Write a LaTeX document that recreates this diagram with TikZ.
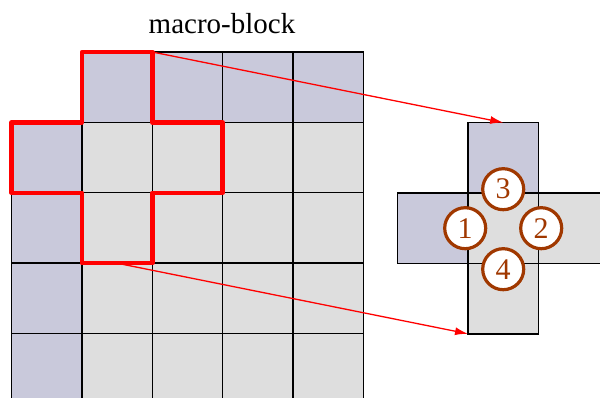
\documentclass[tikz,border=0pt]{standalone}
\usepackage{fontspec}
\setmainfont{Liberation Serif}
\usetikzlibrary{arrows.meta,calc}
\definecolor{mbpurple}{RGB}{201,201,219}
\definecolor{mbgray}{RGB}{222,222,222}
\definecolor{mbbrown}{RGB}{160,56,0}
\tikzset{
  cell/.style={draw=black, line width=1.4pt, minimum width=70.4pt, minimum height=70.4pt,
    inner sep=0pt, outer sep=0pt, anchor=north west},
  hot/.style={cell, fill=mbpurple},
  cold/.style={cell, fill=mbgray},
  outline/.style={draw=red, line width=4.5pt, line join=round},
  link/.style={draw=red, line width=1.3pt, -{Latex[length=13pt,width=8pt]}},
  order/.style={circle, draw=mbbrown, line width=3.2pt, fill=white, text=mbbrown,
    minimum size=41pt, inner sep=0pt, font=\fontsize{30}{30}\selectfont}
}
\begin{document}
\begin{tikzpicture}[x=1pt, y=-1pt]
\useasboundingbox (0,0) rectangle (600,398);
\clip (0,0) rectangle (600,398);

% macro-block grid: first row and first column hold the neighbouring samples
\foreach \c in {2,...,5}
  \node[hot] (c1\c) at ({11.5+(\c-1)*70.4},52) {};
\foreach \r in {2,...,5} {
  \node[hot] (c\r1) at (11.5,{52+(\r-1)*70.4}) {};
  \foreach \c in {2,...,5}
    \node[cold] (c\r\c) at ({11.5+(\c-1)*70.4},{52+(\r-1)*70.4}) {};
}

\node[font=\fontsize{29}{29}\selectfont] (title) at (222,24) {macro-block};

% cross-shaped neighbourhood
\draw[outline] (c12.north west) -- (c12.north east) -- (c12.south east)
  -- (c23.north east) -- (c23.south east) -- (c32.north east)
  -- (c32.south east) -- (c32.south west) -- (c32.north west)
  -- (c21.south west) -- (c21.north west) -- (c12.south west) -- cycle;

% enlarged cross
\node[hot]  (rt) at (468,122.6) {};
\node[hot]  (rl) at (397.6,193) {};
\node[cold] (rc) at (468,193) {};
\node[cold] (rr) at (538.4,193) {};
\node[cold] (rb) at (468,263.4) {};

\draw[link] (c12.north east) -- (rt.north);
\draw[link] (c32.south) -- (rb.south west);

% scan order of the neighbours
\node[order] (n3) at ($(rc.center)+(0,-39)$) {3};
\node[order] (n1) at ($(rc.center)+(-38,0)$) {1};
\node[order] (n2) at ($(rc.center)+(38,0)$) {2};
\node[order] (n4) at ($(rc.center)+(0,41)$) {4};
\end{tikzpicture}
\end{document}
